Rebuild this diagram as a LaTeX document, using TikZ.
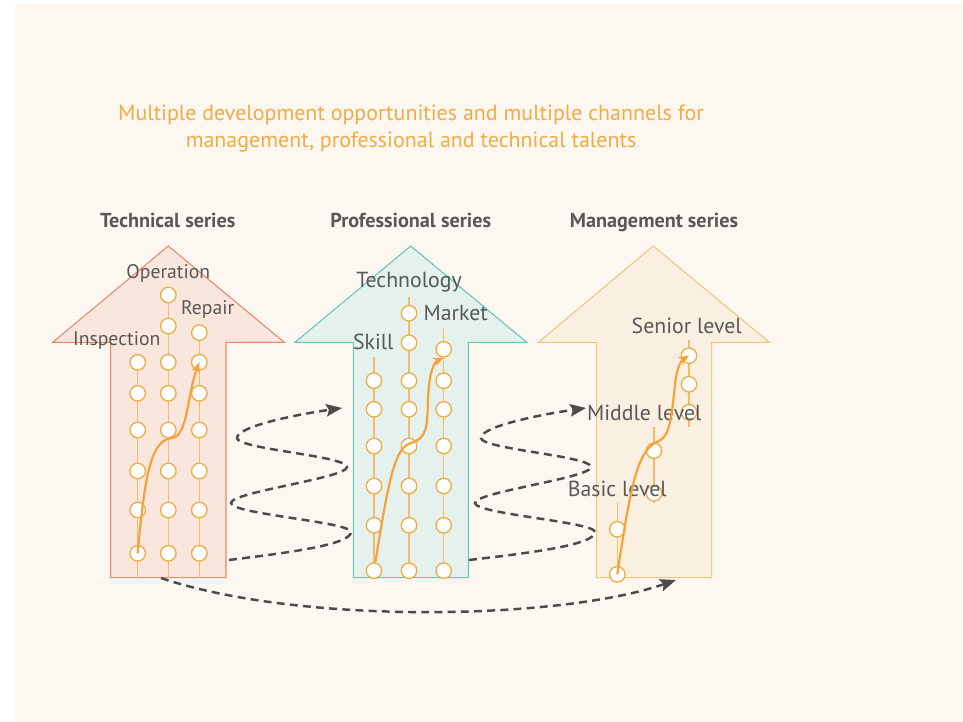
\documentclass[tikz,border=0pt]{standalone}
\usepackage{fontspec}
\setmainfont{PT Sans}
\usetikzlibrary{arrows.meta}

\definecolor{paper}{HTML}{FCF7F1}
\definecolor{ink}{HTML}{585858}
\definecolor{ochre}{HTML}{F0AC45}
\definecolor{railc}{HTML}{F2BC6C}
\definecolor{climbc}{HTML}{F5A23A}
\definecolor{hopc}{HTML}{4B4B4B}
\definecolor{techfill}{HTML}{F9E7DD}
\definecolor{techline}{HTML}{E8876B}
\definecolor{proffill}{HTML}{E4F1EC}
\definecolor{profline}{HTML}{68C6B8}
\definecolor{mgmtfill}{HTML}{FAF0E1}
\definecolor{mgmtline}{HTML}{F2C47D}

\begin{document}
\begin{tikzpicture}[x=0.02cm,y=-0.02cm,
  rung/.style={circle,draw=ochre,fill=white,line width=0.75pt,minimum size=0.31cm,inner sep=0pt},
  rail/.style={draw=railc,line width=0.85pt},
  bigup/.style={line width=0.6pt},
  lbl/.style={text=ink,font=\fontsize{12.4}{14}\selectfont,inner sep=0pt},
  small lbl/.style={lbl,font=\fontsize{11.2}{13}\selectfont},
  series/.style={text=ink,font=\bfseries\fontsize{11.5}{13}\selectfont,inner sep=0pt,text height=1.5ex,text depth=0.45ex},
  climb/.style={draw=climbc,line width=1.25pt,-{Stealth[length=6pt,width=5pt]}},
  hop/.style={draw=hopc,line width=1.4pt,dash pattern=on 4.5pt off 3pt,-{Stealth[length=9pt,width=7pt,inset=1.5pt]}}]

\useasboundingbox (0,0) rectangle (963,722);
\fill[paper] (15,4) rectangle (963,722);

% title
\node[text=ochre,align=center,font=\fontsize{12.5}{15}\selectfont] (title) at (411,128.7)
  {Multiple development opportunities and multiple channels for\\management, professional and technical talents};

% series headers
\node[series] (tech head) at (167.8,223) {Technical series};
\node[series] (prof head) at (410.7,223) {Professional series};
\node[series] (mgmt head) at (654,223) {Management series};

% big arrows
\draw[bigup,fill=techfill,draw=techline] (168.3,246) -- (284.3,342.3) -- (226,342.3) -- (226,577.7)
  -- (110.7,577.7) -- (110.7,342.3) -- (52.7,342.3) -- cycle;
\draw[bigup,fill=proffill,draw=profline] (410.7,246) -- (526.7,342.3) -- (468.3,342.3) -- (468.3,577.7)
  -- (353.3,577.7) -- (353.3,342.3) -- (295,342.3) -- cycle;
\draw[bigup,fill=mgmtfill,draw=mgmtline] (653.3,246) -- (769.3,342.3) -- (711.7,342.3) -- (711.7,577.7)
  -- (596.7,577.7) -- (596.7,342.3) -- (538.3,342.3) -- cycle;

% technical series columns
\draw[rail] (137.7,362.3) -- (137.7,577.7);
\draw[rail] (168.3,295) -- (168.3,577.7);
\draw[rail] (199.3,332.7) -- (199.3,577.7);
\foreach \y [count=\i] in {362.3,393.3,430,471,510,553.3}
  \node[rung] (ins-\i) at (137.7,\y) {};
\foreach \y [count=\i] in {295,326,362.3,393.3,430,471,510,553.3}
  \node[rung] (ope-\i) at (168.3,\y) {};
\foreach \y [count=\i] in {332.7,362.3,393.3,430,471,510,553.3}
  \node[rung] (rep-\i) at (199.3,\y) {};
\node[small lbl] (ope label) at (168.3,273.3) {Operation};
\node[small lbl] (rep label) at (207.7,310) {Repair};
\node[small lbl] (ins label) at (116.7,341) {Inspection};

% professional series columns
\draw[rail] (374,357.3) -- (374,577.7);
\draw[rail] (409,296.7) -- (409,577.7);
\draw[rail] (443.7,328.3) -- (443.7,577.7);
\foreach \y [count=\i] in {380.7,409.3,446,486,525.3,570.7}
  \node[rung] (ski-\i) at (374,\y) {};
\foreach \y [count=\i] in {313.3,342.7,380.7,409.3,446,486,525.3,570.7}
  \node[rung] (tec-\i) at (409,\y) {};
\foreach \y [count=\i] in {349.3,380.7,409.3,446,486,525.3,570.7}
  \node[rung] (mar-\i) at (443.7,\y) {};
\node[lbl] (tec label) at (409,281.7) {Technology};
\node[lbl] (mar label) at (455.7,312.7) {Market};
\node[lbl] (ski label) at (373.3,341.7) {Skill};

% management series columns
\draw[rail] (617.3,503.3) -- (617.3,574.3);
\draw[rail] (654,426.7) -- (654,503.3);
\draw[rail] (689,340) -- (689,426.7);
\foreach \y [count=\i] in {529.3,574.3}
  \node[rung] (bas-\i) at (617.3,\y) {};
\foreach \y [count=\i] in {450.7,493.3}
  \node[rung] (mid-\i) at (654,\y) {};
\foreach \y [count=\i] in {355.7,384.3,412.3}
  \node[rung] (sen-\i) at (689,\y) {};
\node[lbl] (sen label) at (686.7,326) {Senior level};
\node[lbl] (mid label) at (644.3,413.3) {Middle level};
\node[lbl] (bas label) at (617.3,489.3) {Basic level};

% career climbs
\draw[climb] (ins-6.center) .. controls (145,470) and (152,440) .. (172,438)
  .. controls (188,436) and (187,395) .. (rep-2.center);
\draw[climb] (ski-6) .. controls (390,470) and (396,448) .. (411,443)
  .. controls (428,438) and (427,425) .. (428,400)
  .. controls (429,372) and (434,362) .. (mar-1.south);
\draw[climb] (bas-2.center) .. controls (630,490) and (637,450) .. (657,442)
  .. controls (670,437) and (671,420) .. (675,385)
  .. controls (677,365) and (682,360) .. (sen-1.center);

% channel switches
\coordinate (tech out) at (229,560);
\coordinate (prof in) at (342,408);
\coordinate (prof out) at (469,560);
\coordinate (mgmt in) at (586,408);
\coordinate (tech low) at (161,578);
\coordinate (mgmt low) at (676,580);

\draw[hop] (tech out) .. controls (285,553) and (351,545) .. (351,532)
  .. controls (351,522) and (231,514) .. (231,503)
  .. controls (231,492) and (347,478) .. (347,467)
  .. controls (347,456) and (237,449) .. (237,438)
  .. controls (237,426) and (300,414) .. (prof in);
\draw[hop] (prof out) .. controls (529,553) and (595,545) .. (595,532)
  .. controls (595,522) and (475,514) .. (475,503)
  .. controls (475,492) and (591,478) .. (591,467)
  .. controls (591,456) and (481,449) .. (481,438)
  .. controls (481,426) and (544,414) .. (mgmt in);
\draw[hop] (tech low) .. controls (300,625) and (560,620) .. (mgmt low);

\end{tikzpicture}
\end{document}
